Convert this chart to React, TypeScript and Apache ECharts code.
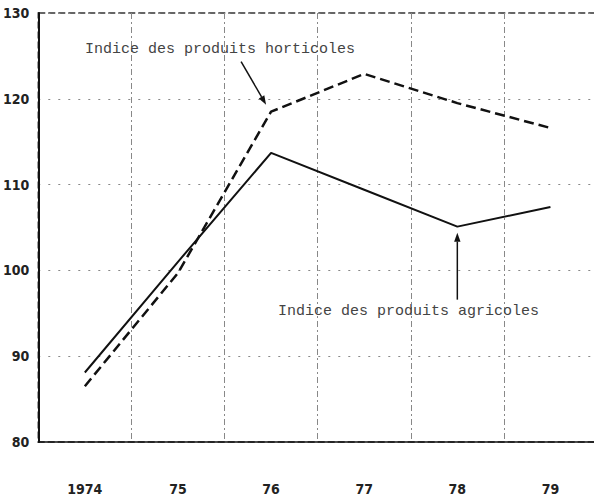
import React, { useEffect, useRef } from "react";
import * as echarts from "echarts";

const years = ["1974", "75", "76", "77", "78", "79"];
const yTicks = [80, 90, 100, 110, 120, 130];
const agricoles = [88.1, 101.0, 113.7, 109.4, 105.1, 107.4];
const horticoles = [86.5, 99.7, 118.5, 122.9, 119.5, 116.6];
const labelHorticoles = "Indice des produits horticoles";
const labelAgricoles = "Indice des produits agricoles";

const tickFont = "'DejaVu Sans Condensed', 'Liberation Sans Narrow', sans-serif";

function arrow(x1: number, y1: number, x2: number, y2: number) {
  const ang = Math.atan2(y2 - y1, x2 - x1);
  const len = 9;
  const w = 3.2;
  const bx = x2 - len * Math.cos(ang);
  const by = y2 - len * Math.sin(ang);
  const px = -Math.sin(ang) * w;
  const py = Math.cos(ang) * w;
  return [
    {
      type: "line",
      shape: { x1, y1, x2: bx, y2: by },
      style: { stroke: "#111", lineWidth: 1.5 },
    },
    {
      type: "polygon",
      shape: { points: [[x2, y2], [bx + px, by + py], [bx - px, by - py]] },
      style: { fill: "#111" },
    },
  ];
}

export default function App() {
  const ref = useRef<HTMLDivElement>(null);
  useEffect(() => {
    if (!ref.current) return;
    const chart = echarts.init(ref.current, null, { renderer: "svg" });
    chart.setOption({
      animation: false,
      backgroundColor: "#fff",
      grid: {
        left: 37,
        top: 13,
        width: 560,
        height: 429,
        show: true,
        borderColor: "#333",
        borderWidth: 1.5,
        borderType: [7, 3],
      },
      xAxis: {
        type: "category",
        data: years,
        boundaryGap: true,
        axisLine: { lineStyle: { color: "#111", width: 1.5 } },
        axisTick: { show: false },
        axisLabel: {
          margin: 40,
          color: "#222",
          fontSize: 14,
          fontWeight: "bold",
          fontFamily: tickFont,
        },
        splitLine: {
          show: true,
          interval: 0,
          lineStyle: { color: "#888", width: 1, type: [6, 3, 2, 3] },
        },
      },
      yAxis: {
        type: "value",
        min: yTicks[0],
        max: yTicks[yTicks.length - 1],
        interval: 10,
        axisLine: { show: true, lineStyle: { color: "#111", width: 2 } },
        axisTick: { show: false },
        axisLabel: {
          margin: 9,
          color: "#222",
          fontSize: 14,
          fontWeight: "bold",
          fontFamily: tickFont,
        },
        splitLine: {
          show: true,
          lineStyle: { color: "#888", width: 1, type: [2, 8] },
        },
      },
      series: [
        {
          name: labelAgricoles,
          type: "line",
          data: agricoles,
          symbol: "none",
          lineStyle: { color: "#111", width: 2 },
        },
        {
          name: labelHorticoles,
          type: "line",
          data: horticoles,
          symbol: "none",
          lineStyle: { color: "#111", width: 2.5, type: [10, 5] },
        },
      ],
    });
    const pH = chart.convertToPixel({ seriesIndex: 1 }, [2, horticoles[2]]) as number[];
    const pA = chart.convertToPixel({ seriesIndex: 0 }, [4, agricoles[4]]) as number[];
    chart.setOption({
      graphic: [
        {
          type: "text",
          left: 85,
          top: 42,
          style: {
            text: labelHorticoles,
            font: "15px 'Liberation Mono', monospace",
            fill: "#444",
          },
        },
        {
          type: "text",
          left: 278,
          top: 304,
          style: {
            text: labelAgricoles,
            font: "15px 'Liberation Mono', monospace",
            fill: "#444",
          },
        },
        ...arrow(pH[0] - 30, pH[1] - 50, pH[0] - 5, pH[1] - 7),
        ...arrow(pA[0], pA[1] + 73, pA[0], pA[1] + 6),
      ],
    });
    return () => chart.dispose();
  }, []);
  return (
    <div
      style={{
        position: "fixed",
        left: 0,
        top: 0,
        width: 594,
        height: 498,
        overflow: "hidden",
        background: "#fff",
      }}
    >
      <div ref={ref} style={{ width: 640, height: 498 }} />
    </div>
  );
}
